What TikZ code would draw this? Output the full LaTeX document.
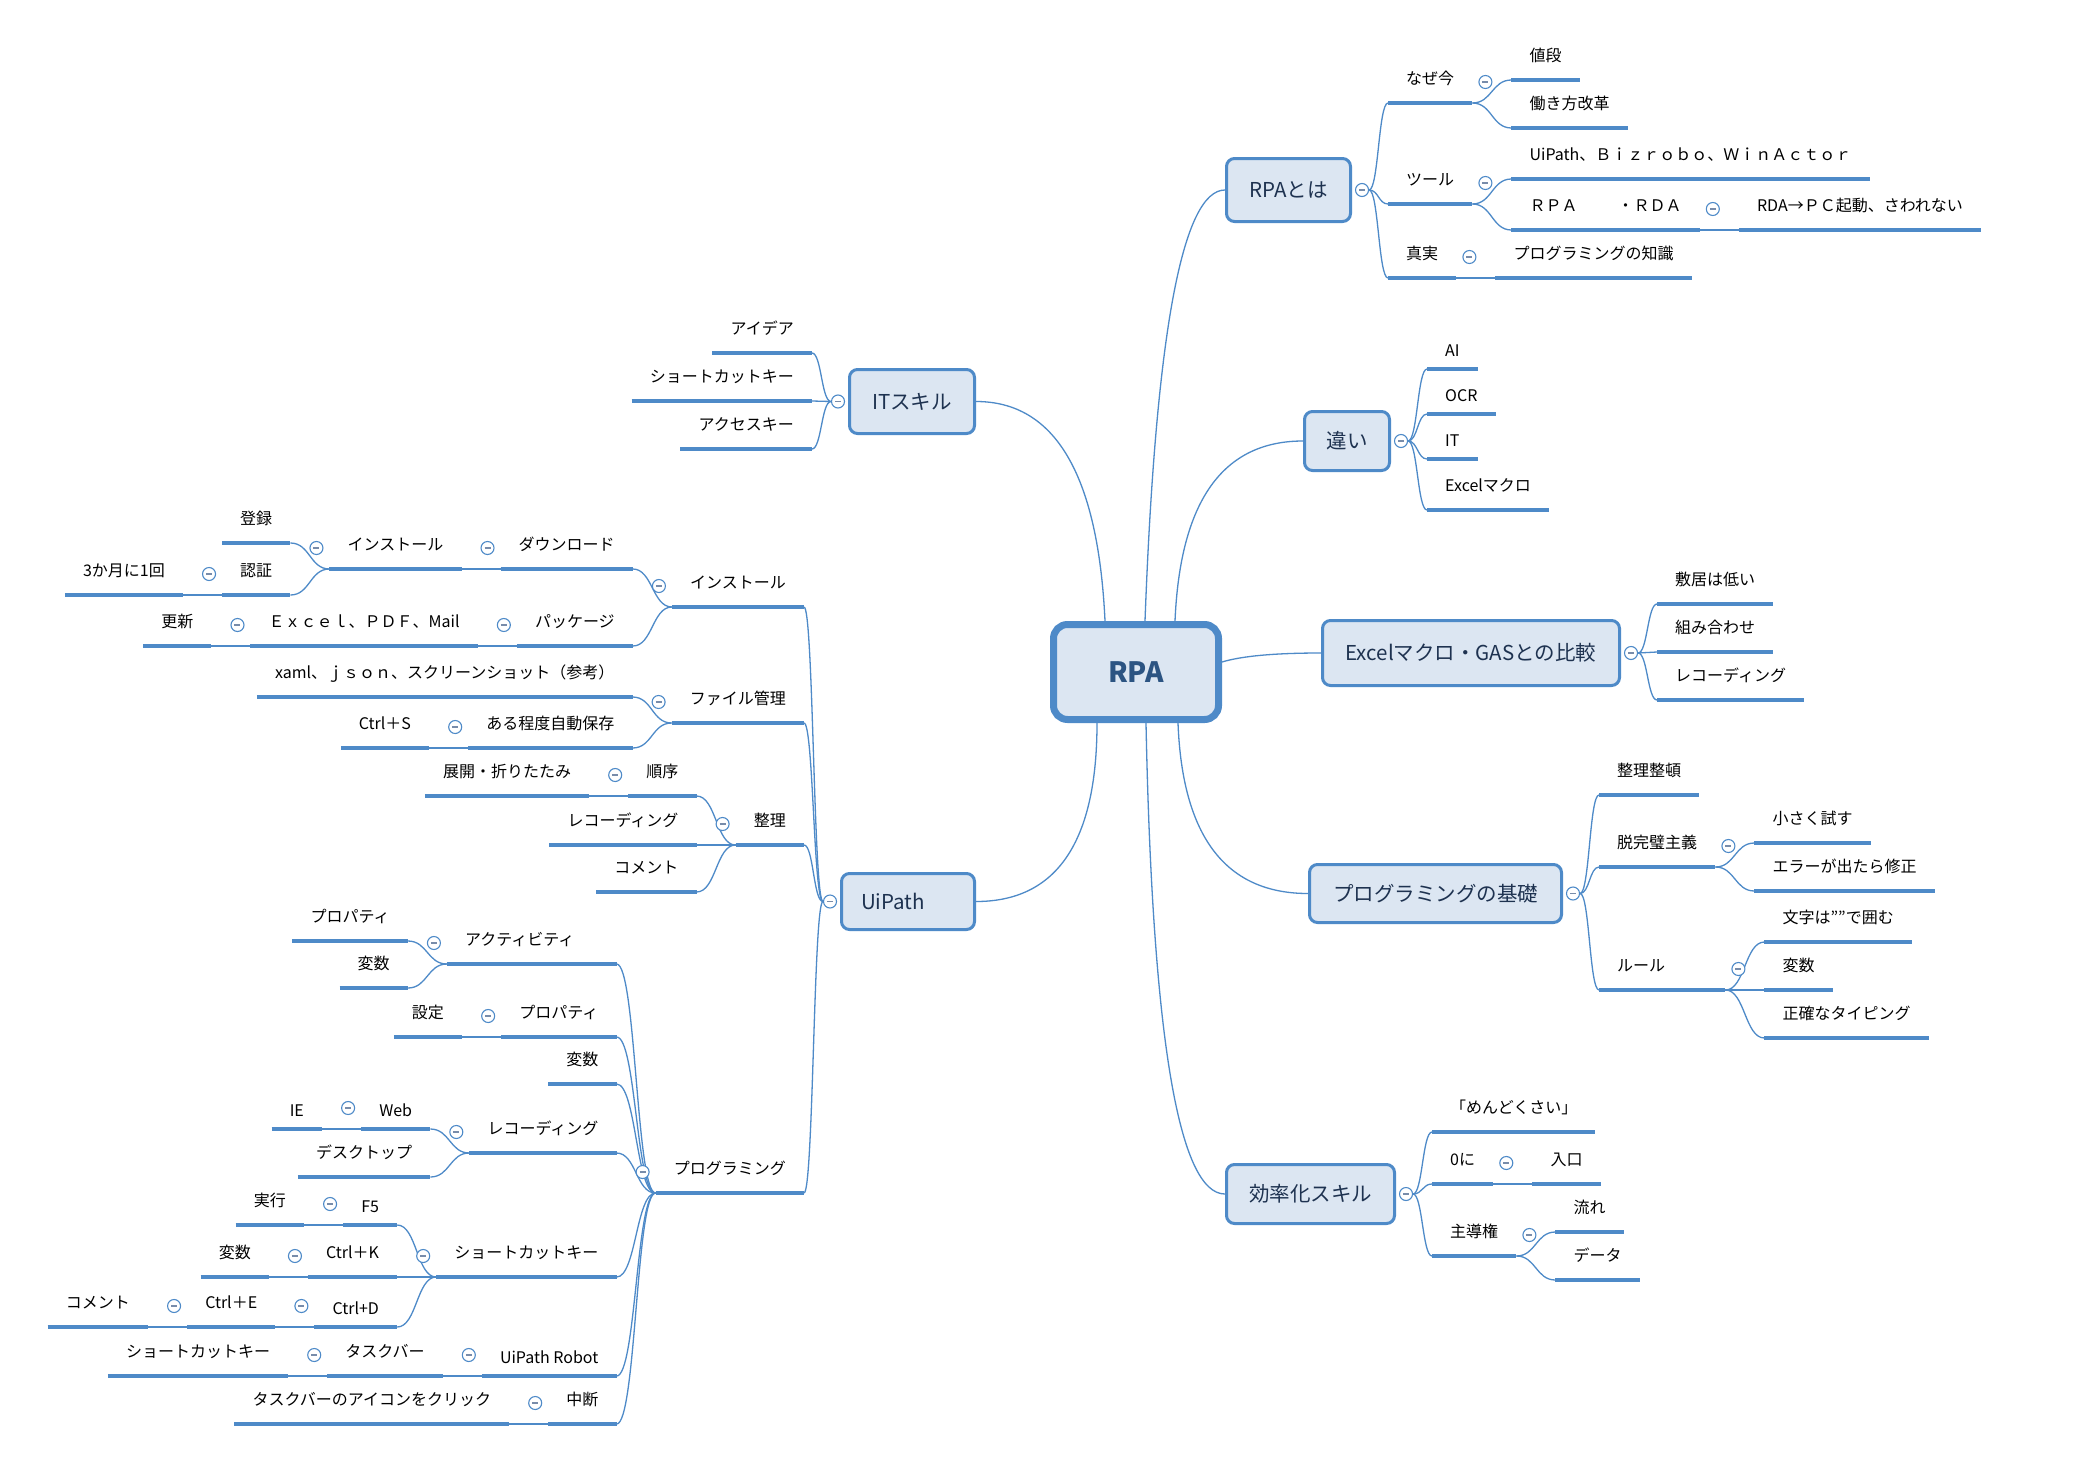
\documentclass[tikz,border=0pt]{standalone}
\usepackage{fontspec}
\setmainfont{Noto Sans CJK JP}
\usetikzlibrary{calc}
\definecolor{lb}{RGB}{78,138,200}
\definecolor{bf}{RGB}{220,230,242}
\definecolor{tn}{RGB}{30,50,80}
\definecolor{rt}{RGB}{44,84,130}
\definecolor{mn}{RGB}{120,140,170}
\tikzset{
 conn/.style={draw=lb, line width=1.3pt},
 ul/.style={draw=lb, line width=4pt},
 sub/.style={font=\fontsize{16pt}{19pt}\selectfont, text=black, inner xsep=18pt, inner ysep=0pt, text height=13pt, text depth=18pt,
   append after command={(\tikzlastnode.south west) edge[ul] (\tikzlastnode.south east)}},
 lat/.style={text depth=12pt},
 topic/.style={draw=lb, line width=3pt, fill=bf, rounded corners=8pt, inner sep=0pt, text=tn,
   font=\fontsize{20.5pt}{24pt}\selectfont, text height=17pt, text depth=2pt},
 col/.style={circle, draw=lb, line width=1.1pt, fill=white, minimum size=13pt, inner sep=0pt,
   path picture={\draw[mn, line width=1.2pt] ([xshift=-3pt]path picture bounding box.center) -- ([xshift=3pt]path picture bounding box.center);}},
}
\newcommand\xnR[5][]{\path let \p1=(#2) in node[sub,#1,anchor=south west] (#3) at (\x1+39,#4) {#5};}
\newcommand\xnL[5][]{\path let \p1=(#2) in node[sub,#1,anchor=south east] (#3) at (\x1-39,#4) {#5};}
\newcommand\xbR[5][]{\path let \p1=(#2.east) in node[sub,#1,anchor=south west] (#3) at (\x1+36,#4) {#5};}
\newcommand\xbL[5][]{\path let \p1=(#2.west) in node[sub,#1,anchor=south east] (#3) at (\x1-36,#4) {#5};}
\newcommand\xcS[2]{\draw[conn] let \p1=(#1), \p2=(#2) in (\p1) .. controls ({0.5*(\x1+\x2)},\y1) and ({0.5*(\x1+\x2)},\y2) .. (\p2);}
\newcommand\xcM[3]{\draw[conn] let \p1=(#1), \p2=(#2) in (\p1) .. controls ({\x1+0.6667*#3*(\x2-\x1)},{\y1+0.6667*(\y2-\y1)}) and ({\x2+0.6667*(\x1+#3*(\x2-\x1)-\x2)},\y2) .. (\p2);}
\newcommand\xcR[1]{\node[col] (c-#1) at ($(#1.south east)+(13,-21)$) {};}
\newcommand\xcL[1]{\node[col] (c-#1) at ($(#1.south west)+(-13,-21)$) {};}
\begin{document}
\begin{tikzpicture}[x=1pt,y=-1pt]
\useasboundingbox[fill=white] (0,0) rectangle (2082,1472);
% topics
\node[topic, line width=7pt, rounded corners=14pt, minimum width=165pt, minimum height=95pt,
  font=\bfseries\fontsize{28pt}{32pt}\selectfont, text=rt, text height=20.5pt, text depth=0pt] (rpa) at (1136,672) {RPA};
\node[topic, minimum width=124pt, minimum height=63pt] (rpatoha) at (1288.5,190) {RPAとは};
\node[topic, minimum width=85pt, minimum height=59pt] (chigai) at (1347,441) {違い};
\node[topic, minimum width=297pt, minimum height=65pt] (excel) at (1471,653) {Excelマクロ・GASとの比較};
\node[topic, minimum width=252pt, minimum height=58pt] (pbasic) at (1435.5,893.5) {プログラミングの基礎};
\node[topic, minimum width=168pt, minimum height=59pt] (kouritsu) at (1310.5,1194) {効率化スキル};
\node[topic, minimum width=125pt, minimum height=64pt] (itskill) at (912,401.5) {ITスキル};
\node[topic, minimum width=133pt, minimum height=56pt] (uipath) at (908,901.5) {UiPath\rule{30pt}{0pt}};
% main connectors
\coordinate (rt1) at ($(rpa.north)+(-31,0)$);
\coordinate (rt2) at ($(rpa.north)+(9,0)$);
\coordinate (rt3) at ($(rpa.north)+(39,0)$);
\coordinate (rb1) at ($(rpa.south)+(-39,0)$);
\coordinate (rb2) at ($(rpa.south)+(10,0)$);
\coordinate (rb3) at ($(rpa.south)+(42,0)$);
\coordinate (rr) at ($(rpa.east)+(0,-10)$);
\xcM{rt2}{rpatoha.west}{0.2}
\xcM{rt1}{itskill.east}{0.08}
\xcM{rt3}{chigai.west}{0.06}
\xcM{rr}{excel.west}{0.3}
\xcM{rb1}{uipath.east}{0.0}
\xcM{rb3}{pbasic.west}{0.05}
\xcM{rb2}{kouritsu.west}{0.12}
% box circles
\node[col] (c-rpatoha) at ($(rpatoha.east)+(10,0)$) {};
\node[col] (c-chigai) at ($(chigai.east)+(10,0)$) {};
\node[col] (c-excel) at ($(excel.east)+(10,0)$) {};
\node[col] (c-pbasic) at ($(pbasic.east)+(10,0)$) {};
\node[col] (c-kouritsu) at ($(kouritsu.east)+(10,0)$) {};
\node[col] (c-itskill) at ($(itskill.west)+(-10,0)$) {};
\node[col] (c-uipath) at ($(uipath.west)+(-10,0)$) {};
% ---------- right side ----------
\xbR{rpatoha}{naze}{103}{なぜ今}
\xbR{rpatoha}{tool}{204}{ツール}
\xbR{rpatoha}{shinjitsu}{278}{真実}
\xnR{naze.south east}{nedan}{80}{値段}
\xnR{naze.south east}{hataraki}{128}{働き方改革}
\xnR{tool.south east}{tools}{179}{UiPath、Ｂｉｚｒｏｂｏ、ＷｉｎＡｃｔｏｒ}
\xnR{tool.south east}{rparda}{230}{ＲＰＡ　　\hspace{8pt}・ＲＤＡ}
\xnR{rparda.south east}{rdapc}{230}{RDA→ＰＣ起動、さわれない}
\xnR{shinjitsu.south east}{chishiki}{278}{プログラミングの知識}
\xbR[lat]{chigai}{ai}{369}{AI}
\xbR[lat]{chigai}{ocr}{414}{OCR}
\xbR[lat]{chigai}{itc}{459}{IT}
\xbR{chigai}{exm}{510}{Excelマクロ}
\xbR{excel}{shikii}{604}{敷居は低い}
\xbR{excel}{kumi}{652}{組み合わせ}
\xbR{excel}{recC}{700}{レコーディング}
\xbR{pbasic}{seiton}{795}{整理整頓}
\xbR{pbasic}{datsu}{867}{脱完璧主義}
\xbR{pbasic}{rule}{990}{ルール\rule{42pt}{0pt}}
\xnR{datsu.south east}{chiisa}{843}{小さく試す}
\xnR{datsu.south east}{error}{891}{エラーが出たら修正}
\xnR{rule.south east}{moji}{942}{文字は""で囲む}
\xnR{rule.south east}{hensuE}{990}{変数}
\xnR{rule.south east}{seikaku}{1038}{正確なタイピング}
\xbR{kouritsu}{mendo}{1132}{「めんどくさい」}
\xbR{kouritsu}{zeroni}{1184}{0に}
\xbR{kouritsu}{shudou}{1256}{主導権}
\xnR{zeroni.south east}{iriguchi}{1184}{入口}
\xnR{shudou.south east}{nagare}{1232}{流れ}
\xnR{shudou.south east}{data}{1280}{データ}
% ---------- left side ----------
\xbL{itskill}{idea}{353}{アイデア}
\xbL{itskill}{sck}{401}{ショートカットキー}
\xbL{itskill}{acc}{449}{アクセスキー}
\xbL{uipath}{inst}{607}{インストール}
\xbL{uipath}{file}{723}{ファイル管理}
\xbL{uipath}{seiri}{845}{整理}
\xbL{uipath}{prog}{1193}{プログラミング}
\xnL{inst.south west}{dl}{569}{ダウンロード}
\xnL{inst.south west}{pkg}{646}{パッケージ}
\xnL{dl.south west}{instb}{569}{インストール}
\xnL{instb.south west}{touroku}{543}{登録}
\xnL{instb.south west}{ninshou}{595}{認証}
\xnL{ninshou.south west}{sankagetsu}{595}{3か月に1回}
\xnL{pkg.south west}{expdf}{646}{Ｅｘｃｅｌ、ＰＤＦ、Mail}
\xnL{expdf.south west}{koushin}{646}{更新}
\xnL{file.south west}{xaml}{697}{xaml、ｊｓｏｎ、スクリーンショット（参考）}
\xnL{file.south west}{jidou}{748}{ある程度自動保存}
\xnL{jidou.south west}{ctrls}{748}{Ctrl＋S}
\xnL{seiri.south west}{junjo}{796}{順序}
\xnL{seiri.south west}{recA}{845}{レコーディング}
\xnL{seiri.south west}{cmtA}{892}{コメント}
\xnL{junjo.south west}{tenkai}{796}{展開・折りたたみ}
\xnL{prog.south west}{act}{964}{アクティビティ\rule{24pt}{0pt}}
\xnL{prog.south west}{propB}{1037}{プロパティ}
\xnL{prog.south west}{hensuB}{1084}{変数}
\xnL{prog.south west}{recB}{1153}{レコーディング}
\xnL{prog.south west}{sckB}{1277}{ショートカットキー}
\xnL[lat]{prog.south west}{robot}{1376}{UiPath Robot}
\xnL{prog.south west}{chudan}{1424}{中断}
\xnL{act.south west}{propC}{941}{プロパティ}
\xnL{act.south west}{hensuC}{988}{変数}
\xnL{propB.south west}{settei}{1037}{設定}
\xnL[lat]{recB.south west}{web}{1129}{Web}
\xnL{recB.south west}{desk}{1177}{デスクトップ}
\xnL[lat]{web.south west}{ie}{1129}{IE}
\xnL[lat]{sckB.south west}{f5}{1225}{F5}
\xnL{sckB.south west}{ctrlk}{1277}{Ctrl＋K}
\xnL[lat]{sckB.south west}{ctrld}{1327}{Ctrl+D}
\xnL{f5.south west}{jikkou}{1225}{実行}
\xnL{ctrlk.south west}{hensuD}{1277}{変数}
\xnL{ctrld.south west}{ctrle}{1327}{Ctrl＋E}
\xnL{ctrle.south west}{cmtB}{1327}{コメント}
\xnL{robot.south west}{taskbar}{1376}{タスクバー}
\xnL{taskbar.south west}{sckC}{1376}{ショートカットキー}
\xnL{chudan.south west}{taskclick}{1424}{タスクバーのアイコンをクリック}
% ---------- connectors right ----------
\foreach \cc in {naze,tool,shinjitsu}{\xcS{c-rpatoha.east}{\cc.south west}}
\foreach \cc in {ai,ocr,itc,exm}{\xcS{c-chigai.east}{\cc.south west}}
\foreach \cc in {shikii,kumi,recC}{\xcS{c-excel.east}{\cc.south west}}
\foreach \cc in {seiton,datsu,rule}{\xcS{c-pbasic.east}{\cc.south west}}
\foreach \cc in {mendo,zeroni,shudou}{\xcS{c-kouritsu.east}{\cc.south west}}
\foreach \pp/\cc in {naze/nedan,naze/hataraki,tool/tools,tool/rparda,rparda/rdapc,shinjitsu/chishiki,
  datsu/chiisa,datsu/error,rule/moji,rule/hensuE,rule/seikaku,zeroni/iriguchi,shudou/nagare,shudou/data}
  {\xcS{\pp.south east}{\cc.south west}}
% ---------- connectors left ----------
\foreach \cc in {idea,sck,acc}{\xcS{c-itskill.west}{\cc.south east}}
\foreach \cc in {inst,file,seiri,prog}{\xcS{c-uipath.west}{\cc.south east}}
\foreach \pp/\cc in {inst/dl,inst/pkg,dl/instb,instb/touroku,instb/ninshou,ninshou/sankagetsu,pkg/expdf,expdf/koushin,
  file/xaml,file/jidou,jidou/ctrls,seiri/junjo,seiri/recA,seiri/cmtA,junjo/tenkai,
  prog/act,prog/propB,prog/hensuB,prog/recB,prog/sckB,prog/robot,prog/chudan,
  act/propC,act/hensuC,propB/settei,recB/web,recB/desk,web/ie,sckB/f5,sckB/ctrlk,sckB/ctrld,
  f5/jikkou,ctrlk/hensuD,ctrld/ctrle,ctrle/cmtB,robot/taskbar,taskbar/sckC,chudan/taskclick}
  {\xcS{\pp.south west}{\cc.south east}}
% ---------- sub circles ----------
\xcR{naze}\xcR{tool}\xcR{shinjitsu}\xcR{rparda}\xcR{datsu}\xcR{rule}\xcR{zeroni}\xcR{shudou}
\xcL{inst}\xcL{file}\xcL{seiri}\xcL{prog}\xcL{dl}\xcL{pkg}\xcL{instb}\xcL{ninshou}\xcL{expdf}
\xcL{jidou}\xcL{junjo}\xcL{act}\xcL{propB}\xcL{recB}\xcL{sckB}\xcL{robot}\xcL{chudan}
\xcL{web}\xcL{f5}\xcL{ctrlk}\xcL{ctrld}\xcL{ctrle}\xcL{taskbar}
\end{tikzpicture}
\end{document}
